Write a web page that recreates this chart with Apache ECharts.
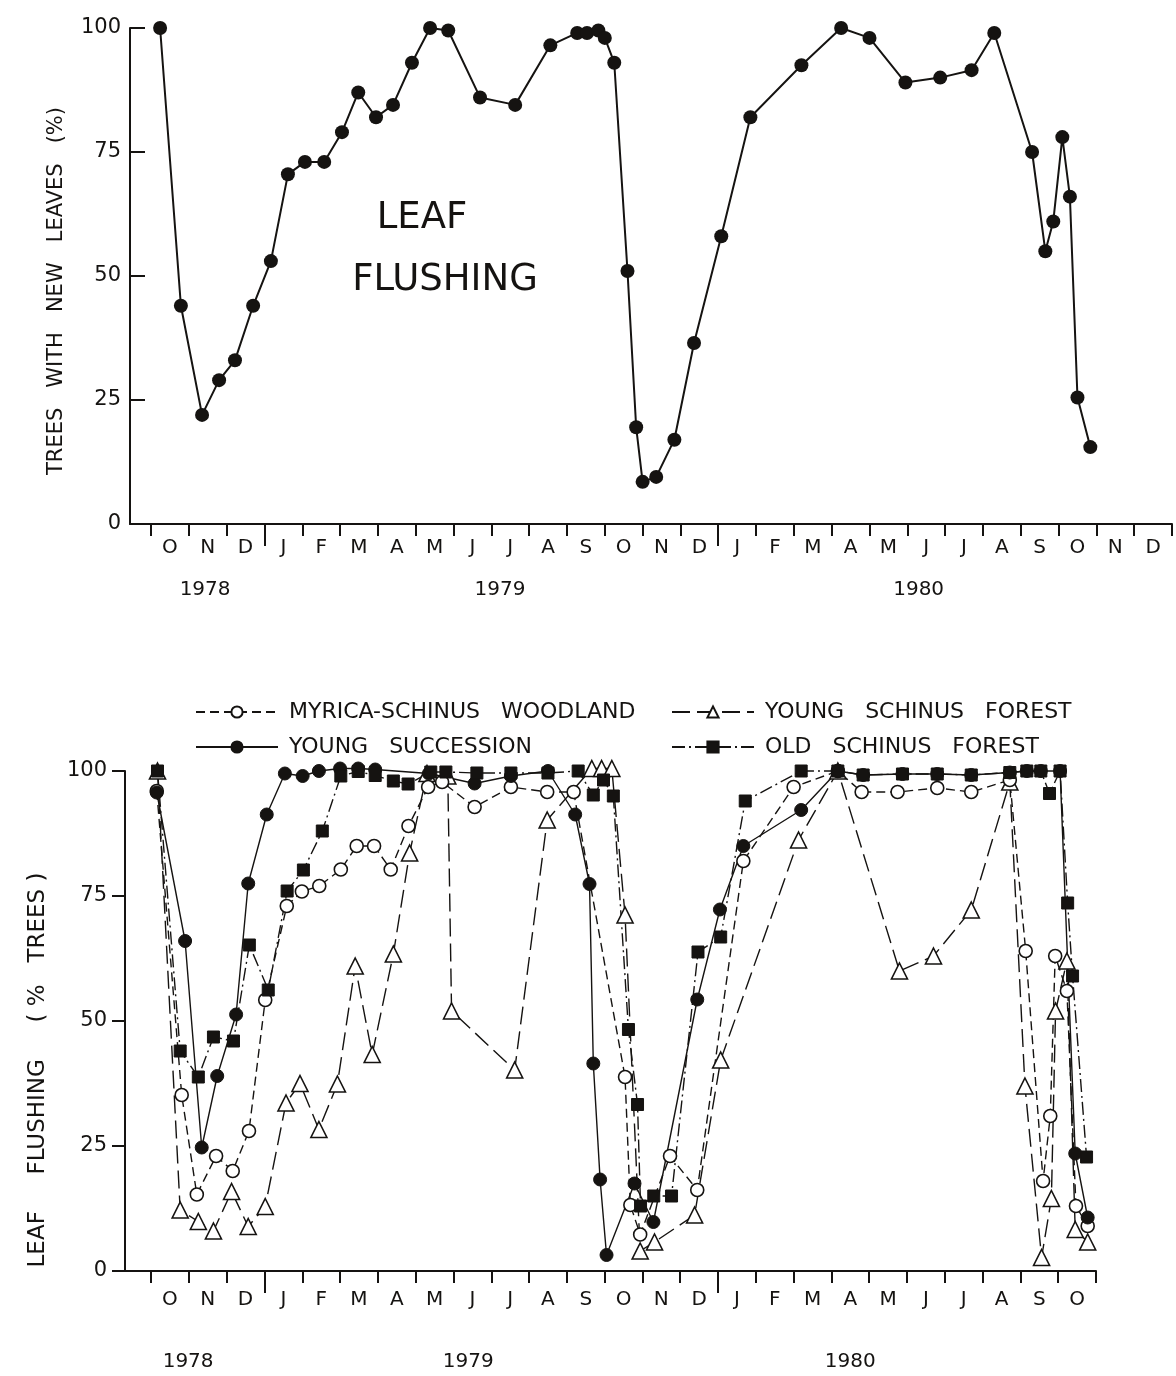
<!DOCTYPE html>
<html><head><meta charset="utf-8">
<script src="https://cdn.jsdelivr.net/npm/echarts@6/dist/echarts.min.js"></script>
<style>html,body{margin:0;padding:0;background:#fff}#c{width:1176px;height:1376px}</style>
</head><body><div id="c"></div>
<script>
// ---- axis labels ----
const monthLabelsTop = ['O','N','D','J','F','M','A','M','J','J','A','S','O','N','D','J','F','M','A','M','J','J','A','S','O','N','D'];
const monthLabelsBottom = monthLabelsTop.slice(0, 25);
const yearLabels = ['1978', '1979', '1980'];
const yearBoundaries = [3, 15];           // months from 1 Oct 1978 where a new year starts

// ---- top panel: leaf flushing (months since 1 Oct 1978, % trees with new leaves) ----
const flushMonths = [0.24,0.79,1.35,1.8,2.22,2.7,3.17,3.62,4.07,4.58,5.05,5.48,5.95,6.4,6.9,7.38,7.86,8.7,9.63,10.56,11.27,11.53,11.83,12.0,12.25,12.6,12.83,13.0,13.36,13.84,14.36,15.08,15.85,17.2,18.25,19.0,19.95,20.87,21.7,22.3,23.3,23.65,23.86,24.1,24.3,24.5,24.84];
const flushValues = [100,44,22,29,33,44,53,70.5,73,73,79,87,82,84.5,93,100,99.5,86,84.5,96.5,99,99,99.5,98,93,51,19.5,8.5,9.5,17,36.5,58,82,92.5,100,98,89,90,91.5,99,75,55,61,78,66,25.5,15.5];

// ---- bottom panel: four stands ----
const myricaMonths = [0.15,0.81,1.21,1.72,2.16,2.59,3.02,3.59,3.99,4.45,5.02,5.44,5.9,6.34,6.81,7.33,7.7,8.56,9.52,10.48,11.18,12.54,12.68,12.94,13.73,14.45,15.67,17.0,18.17,18.8,19.75,20.8,21.7,22.72,23.14,23.6,23.79,23.92,24.23,24.47,24.78];
const myricaValues = [96,35.2,15.3,23,20,28,54.2,73,75.9,77,80.3,85,85,80.3,89,96.8,97.8,92.8,96.8,95.8,95.8,38.8,13.2,7.3,23,16.2,82,96.8,100,95.8,95.8,96.6,95.8,98.2,64,18,31,63,56,13,9];

const youngSuccMonths = [0.15,0.9,1.34,1.75,2.25,2.57,3.06,3.54,4.01,4.44,5.0,5.48,5.93,7.35,8.56,9.52,10.5,11.22,11.6,11.7,11.88,12.05,12.79,13.29,14.45,15.05,15.67,17.2,18.17,18.84,19.88,20.8,21.7,22.72,23.17,23.54,24.05,24.45,24.78];
const youngSuccValues = [95.7,66,24.7,39,51.3,77.5,91.3,99.5,99,100,100.5,100.5,100.3,99.5,97.5,99,100,91.3,77.4,41.5,18.3,3.2,17.5,9.8,54.3,72.3,85,92.2,100,99.2,99.4,99.4,99.2,99.7,100,100,100,23.5,10.7];

const youngSchinusMonths = [0.17,0.77,1.25,1.65,2.13,2.57,3.02,3.57,3.94,4.44,4.93,5.4,5.85,6.41,6.84,7.3,7.85,7.95,9.62,10.48,11.66,11.92,12.19,12.54,12.94,13.32,14.38,15.07,17.13,18.17,19.8,20.7,21.7,22.72,23.12,23.56,23.82,23.93,24.23,24.45,24.78];
const youngSchinusValues = [100,12.2,9.9,8,15.9,8.9,12.9,33.6,37.5,28.3,37.4,61,43.3,63.4,83.6,99.5,99,52,40.2,90.2,100.5,100.5,100.5,71.2,4,5.8,11.2,42.2,86.2,100,60,63,72.2,97.8,37,2.7,14.5,52,62,8.3,5.8];

const oldSchinusMonths = [0.17,0.77,1.25,1.65,2.18,2.6,3.1,3.6,4.03,4.53,5.02,5.48,5.93,6.41,6.8,7.4,7.8,8.62,9.52,10.5,11.3,11.7,11.97,12.23,12.63,12.87,12.95,13.3,13.77,14.47,15.07,15.72,17.2,18.17,18.84,19.88,20.8,21.7,22.72,23.17,23.54,23.77,24.05,24.25,24.38,24.75];
const oldSchinusValues = [100,44,38.8,46.8,46,65.2,56.2,76,80.2,88,99,99.9,99.1,98,97.4,99.8,99.8,99.6,99.6,99.6,100,95.2,98.2,95,48.3,33.3,13,15,15,63.8,66.8,94,100,100,99.2,99.4,99.4,99.2,99.7,100,100,95.5,100,73.6,59,22.8];

const seriesNames = ['MYRICA-SCHINUS WOODLAND', 'YOUNG SUCCESSION', 'YOUNG SCHINUS FOREST', 'OLD SCHINUS FOREST'];

// ---- layout (not data) ----
const yearLabelPosTop = [1.43, 9.23, 20.3];
const yearLabelPosBottom = [0.98, 8.39, 18.5];
const INK = '#151311';
const FONT = 'DejaVu Sans';

const pairs = (xs, ys) => xs.map((x, i) => [x, ys[i]]);
const range = n => Array.from({length: n}, (_, i) => i);
const nearestIdx = (arr, v) => { let b = 0; arr.forEach((a, i) => { if (Math.abs(a - v) < Math.abs(arr[b] - v)) b = i; }); return b; };

function monthAxis(grid, min, labels, margin) {
  return {
    gridIndex: grid, type: 'value', min: min, max: labels.length, position: 'bottom',
    axisLine: {onZero: false, lineStyle: {color: INK, width: 2}},
    axisTick: {customValues: range(labels.length + 1), length: 12, lineStyle: {color: INK, width: 2}},
    axisLabel: {customValues: range(labels.length).map(i => i + 0.5), formatter: v => labels[Math.floor(v)],
      margin: margin, color: INK, fontSize: 20, fontFamily: FONT},
    splitLine: {show: false}
  };
}
function yearAxis(grid, min, max, pos, margin) {
  return {
    gridIndex: grid, type: 'value', min: min, max: max, position: 'bottom',
    axisLine: {show: false, onZero: false},
    axisTick: {customValues: yearBoundaries, length: 22, lineStyle: {color: INK, width: 2}},
    axisLabel: {customValues: pos, formatter: v => yearLabels[nearestIdx(pos, v)],
      margin: margin, color: INK, fontSize: 20, fontFamily: FONT},
    splitLine: {show: false}
  };
}
function yAxis(grid, inside, len, margin) {
  return {
    gridIndex: grid, type: 'value', min: 0, max: 100, interval: 25,
    axisLine: {show: true, onZero: false, lineStyle: {color: INK, width: 2}},
    axisTick: {show: true, inside: inside, length: len, lineStyle: {color: INK, width: 2}},
    axisLabel: {margin: margin, color: INK, fontSize: 21, fontFamily: FONT},
    splitLine: {show: false}
  };
}

const chart = echarts.init(document.getElementById('c'));
const bottomLine = (name, xs, ys, symbol, size, filled, dash) => ({
  name: name, type: 'line', xAxisIndex: 2, yAxisIndex: 1, data: pairs(xs, ys),
  symbol: symbol, symbolSize: size, clip: false,
  itemStyle: filled ? {color: INK, borderColor: INK, borderWidth: 1} : {color: '#fff', borderColor: INK, borderWidth: 1.6},
  lineStyle: {color: INK, width: 1.4, type: dash}
});
const legendCommon = {
  orient: 'vertical', top: 696, itemWidth: 82, itemHeight: 14, itemGap: 13, selectedMode: false,
  formatter: n => n.replace(/ /g, '   '),
  textStyle: {fontSize: 22, fontFamily: FONT, color: INK, padding: [0, 0, 0, 6]}
};

chart.setOption({
  animation: false,
  backgroundColor: '#fff',
  grid: [
    {left: 130, top: 28, width: 1042, height: 496},
    {left: 125, top: 771, width: 971, height: 500}
  ],
  xAxis: [
    monthAxis(0, -0.556, monthLabelsTop, 14),
    yearAxis(0, -0.556, monthLabelsTop.length, yearLabelPosTop, 56),
    monthAxis(1, -0.69, monthLabelsBottom, 19),
    yearAxis(1, -0.69, monthLabelsBottom.length, yearLabelPosBottom, 81)
  ],
  yAxis: [yAxis(0, true, 15, 9), yAxis(1, false, 13, 18)],
  legend: [
    Object.assign({data: [seriesNames[0], seriesNames[1]], left: 190}, legendCommon),
    Object.assign({data: [seriesNames[2], seriesNames[3]], left: 666}, legendCommon)
  ],
  graphic: [
    {type: 'text', x: 422, y: 218, style: {text: 'LEAF', fontSize: 37, fontFamily: FONT, fill: INK, align: 'center', verticalAlign: 'middle'}},
    {type: 'text', x: 445, y: 280, style: {text: 'FLUSHING', fontSize: 37, fontFamily: FONT, fill: INK, align: 'center', verticalAlign: 'middle'}},
    {type: 'text', x: 57, y: 291, rotation: Math.PI / 2, style: {text: 'TREES   WITH   NEW   LEAVES   (%)', fontSize: 21, fontFamily: FONT, fill: INK, align: 'center', verticalAlign: 'middle'}},
    {type: 'text', x: 38, y: 1070, rotation: Math.PI / 2, style: {text: 'LEAF     FLUSHING     ( %   TREES )', fontSize: 23, fontFamily: FONT, fill: INK, align: 'center', verticalAlign: 'middle'}}
  ],
  series: [
    {name: 'LEAF FLUSHING', type: 'line', xAxisIndex: 0, yAxisIndex: 0, data: pairs(flushMonths, flushValues),
      symbol: 'circle', symbolSize: 14, clip: false,
      itemStyle: {color: INK}, lineStyle: {color: INK, width: 2}},
    bottomLine(seriesNames[2], youngSchinusMonths, youngSchinusValues, 'triangle', 16, false, [18, 7]),
    bottomLine(seriesNames[0], myricaMonths, myricaValues, 'circle', 13, false, [9, 5]),
    bottomLine(seriesNames[1], youngSuccMonths, youngSuccValues, 'circle', 13, true, 'solid'),
    bottomLine(seriesNames[3], oldSchinusMonths, oldSchinusValues, 'rect', 12, true, [13, 4, 2, 4])
  ]
});
</script>
</body></html>
